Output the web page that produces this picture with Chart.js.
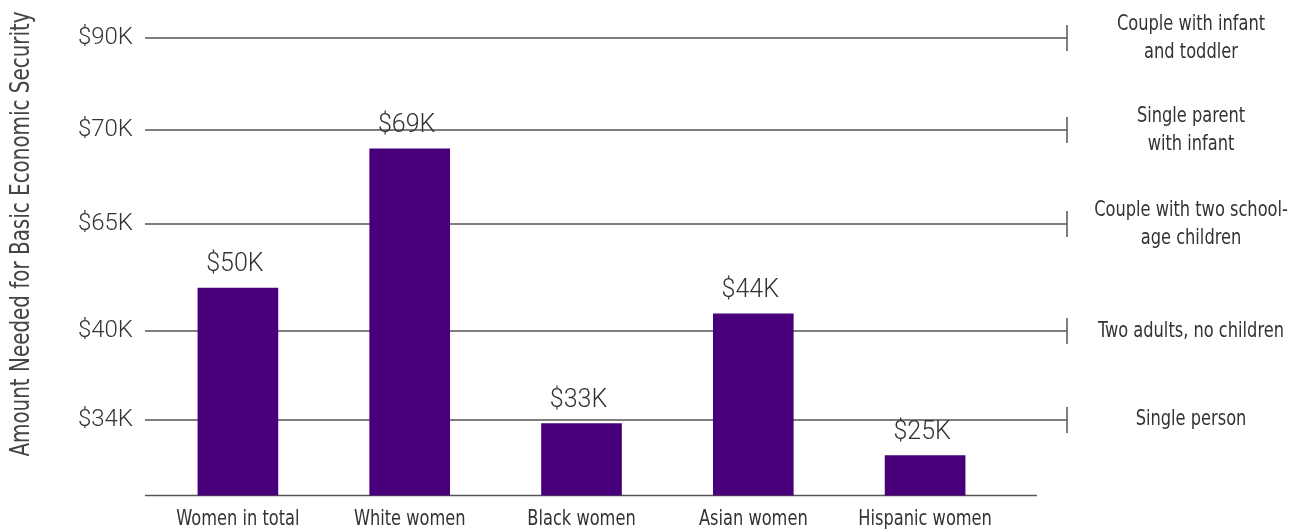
<!DOCTYPE html>
<html>
<head>
<meta charset="utf-8">
<script src="https://cdn.jsdelivr.net/npm/chart.js@4/dist/chart.umd.min.js"></script>
<style>
  html, body { margin: 0; padding: 0; background: #fff; }
  #wrap { width: 1294px; height: 529px; }
</style>
</head>
<body>
<div id="wrap"><canvas id="chart" width="1294" height="529"></canvas></div>
<script>
// Basic economic security amounts, in thousands of dollars
const categories = ['Women in total', 'White women', 'Black women', 'Asian women', 'Hispanic women'];
const amounts = [50, 69, 33, 44, 25];

// Household benchmarks shown as the axis tiers
const tierValues = [34, 40, 65, 70, 90];
const tierHouseholds = [
    ['Single person'],
    ['Two adults, no children'],
    ['Couple with two school-', 'age children'],
    ['Single parent', 'with infant'],
    ['Couple with infant', 'and toddler']
];

const narrow = "'DejaVu Sans Condensed', 'DejaVu Sans', sans-serif";
const light = "Roboto, 'Liberation Sans', sans-serif";
const squeeze = 0.82; // horizontal squeeze for the condensed labels
const money = v => '$' + v + 'K';

// Tiered axis: the ticks are the benchmarks, values in between are interpolated
class TierScale extends Chart.LinearScale {
    buildTicks() {
        return tierValues.map(value => ({ value }));
    }
    tierDecimal(value) {
        const vals = [this.min, ...tierValues];
        const stops = [0, ...this.options.stops];
        if (value <= vals[0]) return 0;
        for (let i = 1; i < vals.length; i++) {
            if (value <= vals[i]) {
                const t = (value - vals[i - 1]) / (vals[i] - vals[i - 1]);
                return stops[i - 1] + t * (stops[i] - stops[i - 1]);
            }
        }
        return 1;
    }
    getPixelForValue(value) {
        if (value === null || value === undefined) return NaN;
        return this.getPixelForDecimal(this.tierDecimal(value));
    }
    getValueForPixel(pixel) {
        const d = this.getDecimalForPixel(pixel);
        const vals = [this.min, ...tierValues];
        const stops = [0, ...this.options.stops];
        for (let i = 1; i < stops.length; i++) {
            if (d <= stops[i]) {
                const t = (d - stops[i - 1]) / (stops[i] - stops[i - 1]);
                return vals[i - 1] + t * (vals[i] - vals[i - 1]);
            }
        }
        return this.max;
    }
}
TierScale.id = 'tier';
TierScale.defaults = {};
Chart.register(TierScale);

// fillText squeezed horizontally around its anchor
function narrowText(ctx, text, x, y) {
    ctx.save();
    ctx.translate(x, y);
    ctx.scale(squeeze, 1);
    ctx.fillText(text, 0, 0);
    ctx.restore();
}

// Benchmark lines, value labels, category names, household notes and the axis title
const decorations = {
    id: 'decorations',
    beforeDatasetsDraw(chart) {
        const { ctx, chartArea, scales: { y } } = chart;
        const x0 = chartArea.left - 7;
        const x1 = chartArea.right + 56;
        ctx.save();
        ctx.strokeStyle = '#555';
        ctx.lineWidth = 1.5;
        y.ticks.forEach(t => {
            const py = Math.round(y.getPixelForValue(t.value));
            ctx.beginPath();
            ctx.moveTo(x0, py);
            ctx.lineTo(x1, py);
            ctx.moveTo(x1, py - 13);
            ctx.lineTo(x1, py + 13);
            ctx.stroke();
        });
        // baseline under the bars
        ctx.beginPath();
        ctx.moveTo(x0, chartArea.bottom);
        ctx.lineTo(chartArea.right + 26, chartArea.bottom);
        ctx.stroke();
        ctx.restore();
    },
    afterDatasetsDraw(chart) {
        const { ctx } = chart;
        const meta = chart.getDatasetMeta(0);
        ctx.save();
        ctx.fillStyle = '#333';
        ctx.font = '300 25px ' + light;
        ctx.textAlign = 'center';
        ctx.textBaseline = 'alphabetic';
        meta.data.forEach((bar, i) => {
            ctx.fillText(money(amounts[i]), bar.x - 3, bar.y - 17);
        });
        ctx.restore();
    },
    afterDraw(chart) {
        const { ctx, chartArea, scales: { x, y } } = chart;
        ctx.save();
        ctx.fillStyle = '#333';
        ctx.font = '22px ' + narrow;
        ctx.textAlign = 'center';

        // category names under the bars
        ctx.textBaseline = 'alphabetic';
        categories.forEach((c, i) => narrowText(ctx, c, x.getPixelForValue(i), chartArea.bottom + 29));

        // household notes to the right of each benchmark line
        ctx.textBaseline = 'middle';
        const cx = chartArea.right + 180;
        const lineH = 28;
        tierValues.forEach((v, i) => {
            const lines = tierHouseholds[i];
            const py = y.getPixelForValue(v);
            const start = py - (lines.length - 1) * lineH / 2;
            lines.forEach((txt, j) => narrowText(ctx, txt, cx, start + j * lineH));
        });

        // rotated axis title
        ctx.fillStyle = '#444';
        ctx.font = '27px ' + narrow;
        ctx.translate(22, 234);
        ctx.rotate(-Math.PI / 2);
        narrowText(ctx, 'Amount Needed for Basic Economic Security', 0, 0);
        ctx.restore();
    }
};

new Chart(document.getElementById('chart'), {
    type: 'bar',
    data: {
        labels: categories,
        datasets: [{
            data: amounts,
            backgroundColor: '#48007a',
            borderWidth: 0,
            barThickness: 80
        }]
    },
    options: {
        responsive: false,
        animation: false,
        layout: { padding: { top: 38, right: 283, left: 0, bottom: 0 } },
        plugins: {
            legend: { display: false },
            tooltip: { enabled: false }
        },
        scales: {
            x: {
                grid: { display: false, drawTicks: false },
                border: { display: false },
                ticks: { display: false },
                afterFit: scale => { scale.height = 33; }
            },
            y: {
                type: 'tier',
                min: 15,
                max: 90,
                stops: [0.166, 0.36, 0.594, 0.799, 1],
                grid: { display: false, drawTicks: false },
                border: { display: false },
                ticks: {
                    color: '#333',
                    padding: 19,
                    font: { family: light, size: 24, weight: '300' },
                    callback: v => money(v)
                },
                afterFit: scale => { scale.width = 152; }
            }
        }
    },
    plugins: [decorations]
});
</script>
</body>
</html>
